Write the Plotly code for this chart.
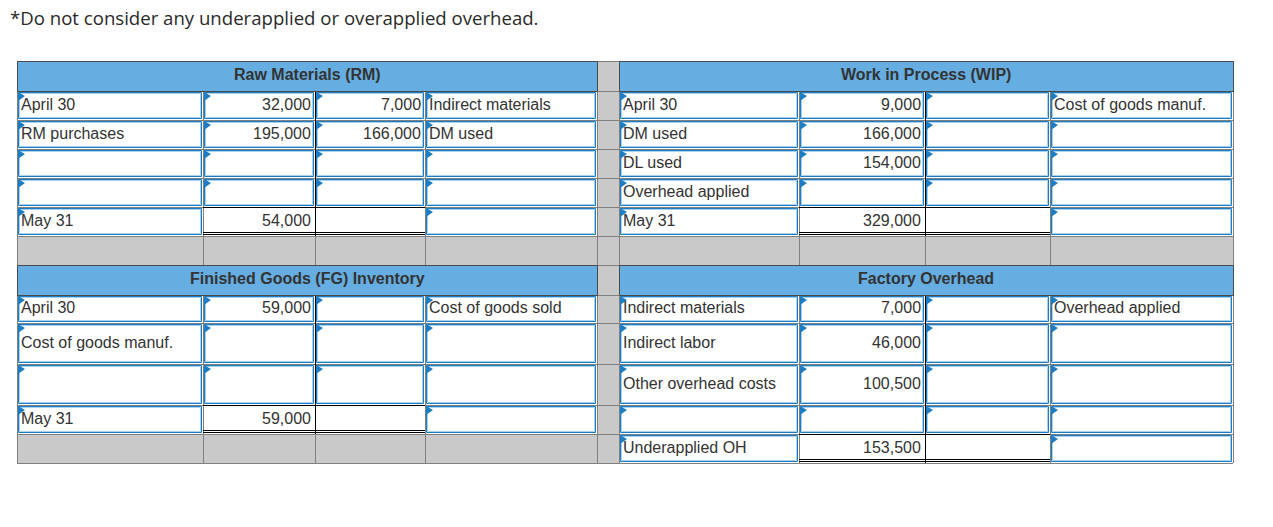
import plotly.graph_objects as go

# --- data -------------------------------------------------------------
note = "*Do not consider any underapplied or overapplied overhead."

rm_title = "Raw Materials (RM)"
rm_dr_labels = ["April 30", "RM purchases", "", "", "May 31"]
rm_dr = [32000, 195000, None, None, 54000]
rm_cr = [7000, 166000, None, None, None]
rm_cr_labels = ["Indirect materials", "DM used", "", "", ""]

wip_title = "Work in Process (WIP)"
wip_dr_labels = ["April 30", "DM used", "DL used", "Overhead applied", "May 31"]
wip_dr = [9000, 166000, 154000, None, 329000]
wip_cr = [None, None, None, None, None]
wip_cr_labels = ["Cost of goods manuf.", "", "", "", ""]

fg_title = "Finished Goods (FG) Inventory"
fg_dr_labels = ["April 30", "Cost of goods manuf.", "", "May 31", ""]
fg_dr = [59000, None, None, 59000, None]
fg_cr = [None, None, None, None, None]
fg_cr_labels = ["Cost of goods sold", "", "", "", ""]

fo_title = "Factory Overhead"
fo_dr_labels = ["Indirect materials", "Indirect labor", "Other overhead costs", "", "Underapplied OH"]
fo_dr = [7000, 46000, 100500, None, 153500]
fo_cr = [None, None, None, None, None]
fo_cr_labels = ["Overhead applied", "", "", "", ""]

# --- layout (pixels) --------------------------------------------------
W, H = 1273, 527
left_cols = [17, 203, 315, 425, 597]
right_cols = [619, 799, 925, 1050, 1233]
top_rows = [91, 120, 149, 178, 207, 236]
bot_rows = [295, 323, 364, 405, 434, 463]
all_rows = [61, 91, 120, 149, 178, 207, 236, 265, 295, 323, 364, 405, 434, 463]

BLUE = "#1c7cc4"
LIGHT = "#a8d0ef"
HEAD = "#66aee1"
GRAY = "#c9c9c9"
GRID = "#808080"
TXT = "#333333"
FONT = "Liberation Sans, Arial, sans-serif"

# cell kinds: i = input box, b = balance cell, g = gray (unused)
kinds_std = [["i"] * 4] * 4 + [["i", "b", "b", "i"]]
kinds_fg = [["i"] * 4] * 3 + [["i", "b", "b", "i"], ["g"] * 4]

accounts = [
    (rm_title, rm_dr_labels, rm_dr, rm_cr, rm_cr_labels, left_cols, top_rows, kinds_std, 61),
    (wip_title, wip_dr_labels, wip_dr, wip_cr, wip_cr_labels, right_cols, top_rows, kinds_std, 61),
    (fg_title, fg_dr_labels, fg_dr, fg_cr, fg_cr_labels, left_cols, bot_rows, kinds_fg, 265),
    (fo_title, fo_dr_labels, fo_dr, fo_cr, fo_cr_labels, right_cols, bot_rows, kinds_std, 265),
]


def fmt(v):
    return "" if v is None else f"{v:,}"


fills, grid, boxes, tris, blacks, heads = [], [], [], [], [], []
annos = []

# gray background + grid
fills.append(dict(type="rect", x0=17, x1=1233, y0=61, y1=463, fillcolor=GRAY, line=dict(width=0)))
for x in left_cols + right_cols:
    grid.append(dict(type="line", x0=x + 0.5, x1=x + 0.5, y0=61, y1=463, line=dict(color=GRID, width=1)))
for y in all_rows:
    grid.append(dict(type="line", x0=17, x1=1233, y0=y + 0.5, y1=y + 0.5, line=dict(color=GRID, width=1)))

for title, dl, dr, cr, cl, cols, rows, kinds, hy in accounts:
    # header band
    heads.append(dict(type="rect", x0=cols[0] + 0.5, x1=cols[-1] + 0.5, y0=hy + 0.5, y1=hy + 30.5,
                      fillcolor=HEAD, line=dict(color="#4a4a4a", width=1)))
    annos.append(dict(x=(cols[0] + cols[-1]) / 2, y=hy + 13, text="<b>" + title + "</b>",
                      showarrow=False, xanchor="center", yanchor="middle",
                      font=dict(family=FONT, size=16, color=TXT)))
    texts = list(zip(dl, [fmt(v) for v in dr], [fmt(v) for v in cr], cl))
    bal_row = None
    for r in range(5):
        y0, y1 = rows[r], rows[r + 1]
        for c in range(4):
            x0, x1 = cols[c], cols[c + 1]
            k = kinds[r][c]
            if k == "g":
                continue
            fills.append(dict(type="rect", x0=x0 + 1, x1=x1, y0=y0 + 1, y1=y1, fillcolor="white", line=dict(width=0)))
            if k == "i":
                boxes.append(dict(type="rect", x0=x0 + 1.5, x1=x1 - 1.5, y0=y0 + 1.5, y1=y1 - 1.5,
                                  line=dict(color=BLUE, width=1)))
                boxes.append(dict(type="rect", x0=x0 + 2.5, x1=x1 - 2.5, y0=y0 + 2.5, y1=y1 - 2.5,
                                  line=dict(color=LIGHT, width=1)))
                tris.append(dict(type="path",
                                 path=f"M{x0 + 1},{y0 + 1} L{x0 + 1},{y0 + 10} L{x0 + 8},{y0 + 5} Z",
                                 fillcolor=BLUE, line=dict(width=0)))
            else:
                bal_row = r
            t = texts[r][c]
            if t:
                right = c in (1, 2)
                annos.append(dict(x=x1 - 2 if right else x0 + 2, y=(y0 + y1) / 2 - 1.5, text=t,
                                  showarrow=False, xanchor="right" if right else "left",
                                  yanchor="middle", font=dict(family=FONT, size=16, color=TXT)))
    # T-account lines
    y0b, y1b = rows[bal_row], rows[bal_row + 1]
    blacks.append(dict(type="line", x0=cols[2] + 0.5, x1=cols[2] + 0.5, y0=rows[0], y1=y1b,
                       line=dict(color="black", width=1)))
    blacks.append(dict(type="line", x0=cols[1], x1=cols[3], y0=y0b + 0.5, y1=y0b + 0.5,
                       line=dict(color="black", width=1)))
    for dy in (-3.5, -1.5):
        blacks.append(dict(type="line", x0=cols[1], x1=cols[3], y0=y1b + dy, y1=y1b + dy,
                           line=dict(color="black", width=1)))

annos.append(dict(x=8, y=17, text=note, showarrow=False, xanchor="left", yanchor="middle",
                  font=dict(family="Open Sans, sans-serif", size=18.6, color="#2a2a2a")))

fig = go.Figure()
fig.update_layout(
    width=W, height=H,
    margin=dict(l=0, r=0, t=0, b=0),
    paper_bgcolor="white", plot_bgcolor="white",
    xaxis=dict(range=[0, W], visible=False, fixedrange=True),
    yaxis=dict(range=[H, 0], visible=False, fixedrange=True),
    shapes=fills + grid + boxes + tris + blacks + heads,
    annotations=annos,
    showlegend=False,
)
fig.write_html("out.html", config={"displayModeBar": False},
               post_script="document.body.style.margin='0';")
